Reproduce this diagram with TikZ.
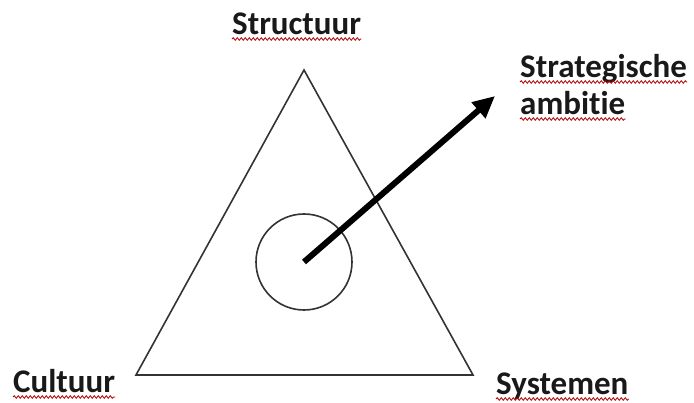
\documentclass[tikz,border=0pt]{standalone}
\usepackage{fontspec}
\setmainfont[Ligatures={NoCommon}]{Carlito}
\usetikzlibrary{arrows.meta,positioning,decorations.pathmorphing}

\tikzset{
  label/.style={font=\fontsize{33}{37}\selectfont\bfseries, inner sep=0pt, text=black!90},
  squiggle/.style={red!70!black, line width=0.8pt, decorate,
    decoration={snake, amplitude=1.3pt, segment length=4pt}},
}

\begin{document}
\begin{tikzpicture}[x=1pt, y=-1pt]
    \useasboundingbox (0,0) rectangle (694,403);

    % Triangle
    \coordinate (top) at (304,70);
    \coordinate (left) at (136,375);
    \coordinate (right) at (473,375);
    \draw[line width=1.6pt, black!80] (top) -- (left) -- (right) -- cycle;

    % Circle and arrow
    \node[circle, draw=black!80, line width=1.6pt, minimum size=96pt, inner sep=0pt] (kern) at (304,262) {};
    \coordinate (ambitiepunt) at (495,96);
    \draw[line width=6pt, -{Triangle[length=22pt, width=20pt]}] (kern.center) -- (ambitiepunt);

    % Labels
    \node[label, anchor=base west] (structuur) at (232,35) {Structuur};
    \node[label, anchor=base west] (strategie) at (520,78) {Strategische};
    \node[label, anchor=base west] (ambitie) at (520,115) {ambitie};
    \node[label, anchor=base west] (cultuur) at (13,393) {Cultuur};
    \node[label, anchor=base west] (systemen) at (496,395) {Systemen};

    % Spelling underlines
    \foreach \n in {structuur, strategie, ambitie, cultuur, systemen}
      \draw[squiggle] ([yshift=-4pt]\n.base west) -- ([yshift=-4pt]\n.base east);
\end{tikzpicture}
\end{document}
